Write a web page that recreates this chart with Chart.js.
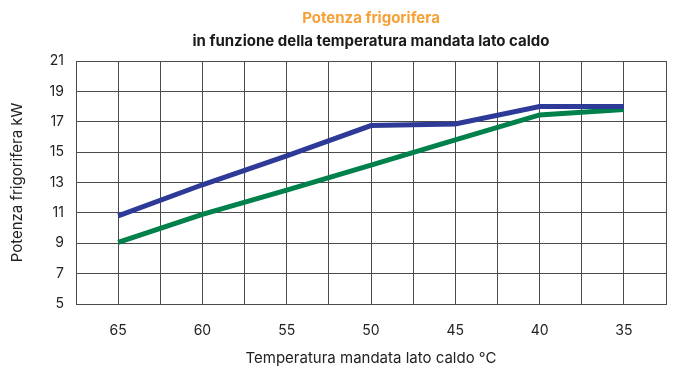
<!DOCTYPE html>
<html>
<head>
<meta charset="utf-8">
<script src="https://cdn.jsdelivr.net/npm/chart.js@4/dist/chart.umd.min.js"></script>
<style>
html,body{margin:0;padding:0;background:#fff;}
#wrap{width:674px;height:369px;position:relative;}
</style>
</head>
<body>
<div id="wrap"><canvas id="c" width="674" height="369"></canvas></div>
<script>
const temperatures = [65, 60, 55, 50, 45, 40, 35];
const seriesBlue = [10.8, 12.85, 14.75, 16.75, 16.85, 18.0, 18.0];
const seriesGreen = [9.05, 10.9, 12.5, 14.15, 15.8, 17.45, 17.8];
const yTicks = [5, 7, 9, 11, 13, 15, 17, 19, 21];

const toPoints = vals => temperatures.map((t, i) => ({x: t, y: vals[i]}));
const FONT = "'Inter', 'Lato', 'DejaVu Sans', sans-serif";
const gridCol = '#4a4a4a';

new Chart(document.getElementById('c'), {
  type: 'line',
  data: {
    datasets: [
      {label: 'A', data: toPoints(seriesBlue), borderColor: '#2e3a97', borderWidth: 5, pointRadius: 0, tension: 0, borderCapStyle: 'butt'},
      {label: 'B', data: toPoints(seriesGreen), borderColor: '#00804a', borderWidth: 5, pointRadius: 0, tension: 0, borderCapStyle: 'butt'}
    ]
  },
  options: {
    responsive: false,
    animation: false,
    layout: {padding: {top: 9, right: 8, left: 0, bottom: 0}},
    plugins: {
      legend: {display: false},
      tooltip: {enabled: false},
      title: {display: true, fullSize: false, text: 'Potenza frigorifera', color: '#f7a035', font: {family: FONT, size: 15, weight: 'bold', lineHeight: 1.2}, padding: {top: 0, bottom: 5}},
      subtitle: {display: true, fullSize: false, text: 'in funzione della temperatura mandata lato caldo', color: '#1a1a1a', font: {family: FONT, size: 15, weight: 'bold', lineHeight: 1.2}, padding: {top: 0, bottom: 11}}
    },
    scales: {
      x: {
        type: 'linear',
        reverse: true,
        min: 32.5,
        max: 67.5,
        afterBuildTicks: axis => {
          const t = [];
          for (let v = 32.5; v <= 67.5 + 1e-9; v += 2.5) t.push({value: v});
          axis.ticks = t;
        },
        afterFit: axis => { axis.height = 65; },
        ticks: {
          autoSkip: false, maxRotation: 0, padding: 18, color: '#222',
          font: {family: FONT, size: 14},
          callback: v => temperatures.includes(v) ? String(v) : ''
        },
        grid: {color: gridCol, lineWidth: 1, drawTicks: false},
        border: {color: gridCol, width: 1},
        title: {display: true, text: 'Temperatura mandata lato caldo °C', color: '#222', font: {family: FONT, size: 15, lineHeight: 1.2}, padding: {top: 0, bottom: 2}}
      },
      y: {
        type: 'linear',
        min: 5,
        max: 21,
        afterBuildTicks: axis => { axis.ticks = yTicks.map(v => ({value: v})); },
        afterFit: axis => { axis.width = 76; },
        ticks: {padding: 12, color: '#222', font: {family: FONT, size: 14}},
        grid: {color: gridCol, lineWidth: 1, drawTicks: false},
        border: {color: gridCol, width: 1},
        title: {display: true, text: 'Potenza frigorifera kW', color: '#222', font: {family: FONT, size: 15, lineHeight: 1.2}, padding: {top: 8, bottom: 0}}
      }
    }
  }
});
</script>
</body>
</html>
